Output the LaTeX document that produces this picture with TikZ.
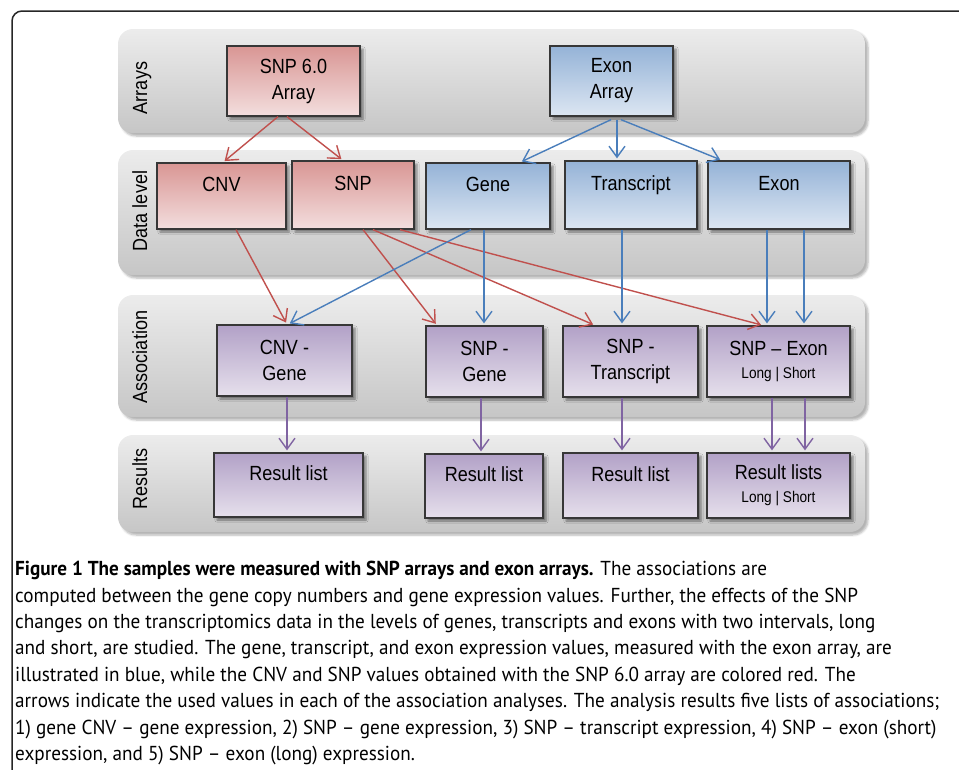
\documentclass[tikz,border=0pt]{standalone}
\usepackage{fontspec}
\setmainfont[FakeStretch=0.88]{Liberation Sans}
\newfontfamily\capfont[FakeStretch=0.95]{PT Sans}
\usepackage{tikz}
\usetikzlibrary{arrows.meta,positioning,shadows,shadows.blur}
\usepackage{xcolor}
\definecolor{lanetop}{RGB}{236,236,236}
\definecolor{lanebot}{RGB}{198,198,198}
\definecolor{boxline}{RGB}{55,55,55}
\definecolor{redtop}{RGB}{217,150,148}
\definecolor{redbot}{RGB}{243,222,222}
\definecolor{bluetop}{RGB}{149,179,215}
\definecolor{bluebot}{RGB}{220,230,242}
\definecolor{purtop}{RGB}{178,161,199}
\definecolor{purbot}{RGB}{230,224,236}
\definecolor{redline}{RGB}{192,80,77}
\definecolor{blueline}{RGB}{74,126,187}
\definecolor{purline}{RGB}{128,100,162}
\newcommand{\boxfont}{\fontsize{20.5}{26}\selectfont}
\newcommand{\smallfont}{\fontsize{15.5}{18}\selectfont}
\tikzstyle{lane} = [rounded corners=15pt, top color=lanetop, bottom color=lanebot,
  blur shadow={shadow xshift=3pt, shadow yshift=-3pt, shadow blur steps=6, shadow opacity=30}]
\tikzstyle{lanelabel} = [font=\boxfont, rotate=90, inner sep=0pt, text height=14pt, text depth=4pt]
\tikzstyle{box} = [draw=boxline, line width=1.3pt, inner sep=0pt, align=center, font=\boxfont,
  blur shadow={shadow xshift=3pt, shadow yshift=-3pt, shadow blur steps=4, shadow opacity=45}]
\tikzstyle{redbox} = [box, top color=redtop, bottom color=redbot]
\tikzstyle{bluebox} = [box, top color=bluetop, bottom color=bluebot]
\tikzstyle{purbox} = [box, top color=purtop, bottom color=purbot]
\tikzstyle{uptext} = [text height=15pt, text depth=24pt]
\tikzstyle{arrow} = [line width=1.4pt, ->, >={Straight Barb[length=11pt,width=16pt]}, shorten >=2pt]

\begin{document}
\begin{tikzpicture}[x=1pt, y=-1pt]
\useasboundingbox (0,0) rectangle (959,769);
% Frame
\draw[line width=1.5pt, color=black!85, rounded corners=10pt] (12,800) |- (1000,11);

% Lanes
\foreach \i/\top/\bot/\ly/\label in {1/29/133/88/Arrays, 2/150/275/211/Data level, 3/295/417/357/Association, 4/435/532/479/Results} {
    \path[lane] (118,\top) rectangle (865,\bot);
    \node[lanelabel] (lbl\i) at (142,\ly) {\label};
}

% Arrays
\node[redbox, minimum width=133pt, minimum height=70pt] (snparr) at (293.5,81) {SNP 6.0\\Array};
\node[bluebox, minimum width=123pt, minimum height=70pt] (exarr) at (611.5,81) {Exon\\Array};

% Data level
\node[redbox, uptext, minimum width=129pt, minimum height=66pt] (cnv) at (221.5,196) {CNV};
\node[redbox, uptext, minimum width=122pt, minimum height=68pt] (snp) at (353,195) {SNP};
\node[bluebox, uptext, minimum width=124pt, minimum height=66pt] (gene) at (488,196) {Gene};
\node[bluebox, uptext, minimum width=132pt, minimum height=68pt] (trans) at (631,195) {Transcript};
\node[bluebox, uptext, minimum width=142pt, minimum height=68pt] (exon) at (779,195) {Exon};

% Association
\node[purbox, minimum width=135pt, minimum height=71pt] (cnvgene) at (284.5,360.5) {CNV -\\Gene};
\node[purbox, minimum width=117pt, minimum height=71pt] (snpgene) at (484.5,361.5) {SNP -\\Gene};
\node[purbox, minimum width=135pt, minimum height=71pt] (snptrans) at (630.5,361.5) {SNP -\\Transcript};
\node[purbox, minimum width=143pt, minimum height=71pt] (snpexon) at (778.5,361.5) {SNP – Exon\\[-3pt]{\smallfont Long | Short}};

% Results
\node[purbox, uptext, minimum width=149pt, minimum height=64pt] (res1) at (288.5,485) {Result list};
\node[purbox, uptext, minimum width=118pt, minimum height=64pt] (res2) at (484,486) {Result list};
\node[purbox, uptext, minimum width=135pt, minimum height=65pt] (res3) at (630.5,485.5) {Result list};
\node[purbox, minimum width=143pt, minimum height=65pt] (res4) at (778.5,485.5) {Result lists\\[-3pt]{\smallfont Long | Short}};

% Red arrows
\draw[arrow, redline] ([xshift=-15.5pt]snparr.south) -- ([xshift=1.5pt]cnv.north);
\draw[arrow, redline] ([xshift=-6.5pt]snparr.south) -- ([xshift=-10pt]snp.north);
\draw[arrow, redline] ([xshift=14.5pt]cnv.south) -- ([xshift=2.5pt]cnvgene.north);
\draw[arrow, redline] ([xshift=10pt]snp.south) -- ([xshift=-47.5pt]snpgene.north);
\draw[arrow, redline] ([xshift=20pt]snp.south) -- ([xshift=-35.5pt]snptrans.north);
\draw[arrow, redline] ([xshift=47pt]snp.south) -- ([xshift=-15.5pt]snpexon.north);

% Blue arrows
\draw[arrow, blueline] ([xshift=-0.5pt,yshift=-3pt]exarr.south) -- ([xshift=32pt]gene.north);
\draw[arrow, blueline] ([xshift=5.5pt,yshift=-3pt]exarr.south) -- ([xshift=-14pt]trans.north);
\draw[arrow, blueline] ([xshift=9.5pt,yshift=-3pt]exarr.south) -- ([xshift=-57pt]exon.north);
\draw[arrow, blueline] ([xshift=-17pt]gene.south) -- ([xshift=3.5pt]cnvgene.north);
\draw[arrow, blueline] ([xshift=-4pt]gene.south) -- ([xshift=-0.5pt]snpgene.north);
\draw[arrow, blueline] ([xshift=-9pt]trans.south) -- ([xshift=-8.5pt]snptrans.north);
\draw[arrow, blueline] ([xshift=-12pt]exon.south) -- ([xshift=-11.5pt]snpexon.north);
\draw[arrow, blueline] ([xshift=25pt]exon.south) -- ([xshift=25.5pt]snpexon.north);

% Purple arrows
\draw[arrow, purline] ([xshift=2.5pt]cnvgene.south) -- ([xshift=-1.5pt]res1.north);
\draw[arrow, purline] ([xshift=-3.5pt]snpgene.south) -- ([xshift=-3pt]res2.north);
\draw[arrow, purline] ([xshift=-8.5pt]snptrans.south) -- ([xshift=-8.5pt]res3.north);
\draw[arrow, purline] ([xshift=-6.5pt]snpexon.south) -- ([xshift=-6.5pt]res4.north);
\draw[arrow, purline] ([xshift=26.5pt]snpexon.south) -- ([xshift=26.5pt]res4.north);

% Caption
\node[anchor=north west, inner sep=0pt, align=left, font=\capfont\fontsize{20.2}{26.4}\selectfont] (caption) at (15,561) {%
{\bfseries Figure 1 The samples were measured with SNP arrays and exon arrays.} The associations are\\
computed between the gene copy numbers and gene expression values. Further, the effects of the SNP\\
changes on the transcriptomics data in the levels of genes, transcripts and exons with two intervals, long\\
and short, are studied. The gene, transcript, and exon expression values, measured with the exon array, are\\
illustrated in blue, while the CNV and SNP values obtained with the SNP 6.0 array are colored red. The\\
arrows indicate the used values in each of the association analyses. The analysis results five lists of associations;\\
1) gene CNV – gene expression, 2) SNP – gene expression, 3) SNP – transcript expression, 4) SNP – exon (short)\\
expression, and 5) SNP – exon (long) expression.};
\end{tikzpicture}
\end{document}
